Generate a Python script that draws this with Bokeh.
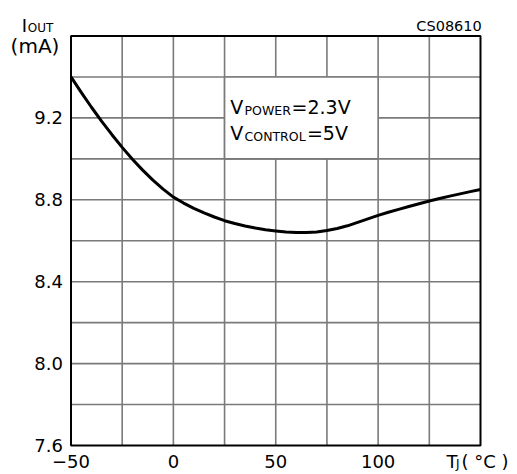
from bokeh.plotting import figure
from bokeh.models import LabelSet, ColumnDataSource, Range1d
from bokeh.core.properties import value
from bokeh.embed import file_html
from bokeh.resources import INLINE

# ---- data ----
temperature_c = [-50, -45, -40, -35, -30, -25, -20, -15, -10, -5, 0, 5, 10, 15, 20,
                 25, 30, 35, 40, 45, 50, 55, 60, 65, 70, 75, 80, 85, 90, 95, 100,
                 105, 110, 115, 120, 125, 130, 135, 140, 145, 150]
i_out_ma = [9.400, 9.325, 9.252, 9.183, 9.118, 9.056, 8.998, 8.945, 8.896, 8.852,
            8.813, 8.784, 8.758, 8.736, 8.716, 8.698, 8.684, 8.672, 8.662, 8.654,
            8.648, 8.643, 8.640, 8.640, 8.643, 8.650, 8.660, 8.673, 8.690, 8.707,
            8.724, 8.739, 8.753, 8.767, 8.781, 8.794, 8.806, 8.818, 8.829, 8.840,
            8.850]

x_tick_values = [-50, 0, 50, 100]
x_tick_labels = ["\u221250", "0", "50", "100"]
y_tick_values = [7.6, 8.0, 8.4, 8.8, 9.2]
y_tick_labels = ["7.6", "8.0", "8.4", "8.8", "9.2"]
x_grid_values = [-25, 0, 25, 50, 75, 100, 125]
y_grid_values = [7.8, 8.0, 8.2, 8.4, 8.6, 8.8, 9.0, 9.2, 9.4]
x_lim = (-50, 150)
y_lim = (7.6, 9.6)
note_box = dict(left=25, right=100, bottom=9.0, top=9.4)

# ---- layout (pixels) ----
W, H = 517, 474
PLOT_L, PLOT_R, PLOT_T, PLOT_B = 70.5, 480.0, 35.5, 445.0
kx = (PLOT_R - PLOT_L) / (x_lim[1] - x_lim[0])
ky = (PLOT_B - PLOT_T) / (y_lim[1] - y_lim[0])
x_range = Range1d(x_lim[0] - PLOT_L / kx, x_lim[1] + (W - PLOT_R) / kx)
y_range = Range1d(y_lim[0] - (H - PLOT_B) / ky, y_lim[1] + PLOT_T / ky)

FONT = value("DejaVu Sans")
GRID_COLOR = "#7a7a7a"
BOTTOM_ROW = -22.5  # baseline offset of the x tick-label row (px)

p = figure(width=W, height=H, x_range=x_range, y_range=y_range,
           output_backend="svg", toolbar_location=None, title=None,
           x_axis_location=None, y_axis_location=None,
           min_border=0, min_border_left=0, min_border_right=0,
           min_border_top=0, min_border_bottom=0)
p.background_fill_color = "white"
p.border_fill_color = "white"
p.outline_line_color = None
p.grid.visible = False

x0, x1 = x_lim
y0, y1 = y_lim

# grid
p.segment(x0=x_grid_values, y0=[y0] * len(x_grid_values),
          x1=x_grid_values, y1=[y1] * len(x_grid_values),
          line_color=GRID_COLOR, line_width=1.6)
p.segment(x0=[x0] * len(y_grid_values), y0=y_grid_values,
          x1=[x1] * len(y_grid_values), y1=y_grid_values,
          line_color=GRID_COLOR, line_width=1.6)

# white note box
p.quad(**note_box, fill_color="white", line_color=GRID_COLOR, line_width=1.6)

# plot border
p.quad(left=x0, right=x1, bottom=y0, top=y1, fill_color=None,
       line_color="black", line_width=2)

# curve
p.line(temperature_c, i_out_ma, line_color="black", line_width=3,
       line_join="round")

# tick labels
xsrc = ColumnDataSource(dict(x=x_tick_values, y=[y0] * len(x_tick_values),
                             text=x_tick_labels))
p.add_layout(LabelSet(x="x", y="y", text="text", source=xsrc, y_offset=BOTTOM_ROW,
                      text_align="center", text_baseline="alphabetic",
                      text_font=FONT, text_font_size="18px", text_color="black"))
ysrc = ColumnDataSource(dict(x=[x0] * len(y_tick_values), y=y_tick_values,
                             text=y_tick_labels))
p.add_layout(LabelSet(x="x", y="y", text="text", source=ysrc, x_offset=-8,
                      text_align="right", text_baseline="middle",
                      text_font=FONT, text_font_size="18px", text_color="black"))


def lab(text, x, y, dx, dy, size, align="left"):
    src = ColumnDataSource(dict(x=[x], y=[y], text=[text]))
    p.add_layout(LabelSet(x="x", y="y", text="text", source=src,
                          x_offset=dx, y_offset=dy,
                          text_font=FONT, text_font_size=size, text_color="black",
                          text_align=align, text_baseline="alphabetic"))


# axis titles
lab("I", x0, y1, -49.3, 3.8, "18px")
lab("OUT", x0, y1, -43.2, 3.8, "12px")
lab("(mA)", x0, y1, -36, -17, "20px", "center")
lab("T", x1, y0, -34, BOTTOM_ROW, "18px")
lab("J", x1, y0, -24.5, BOTTOM_ROW, "12px")
lab("( \u00b0C )", x1, y0, -19, BOTTOM_ROW, "18px")
lab("CS08610", x1, y1, 1.3, 4.8, "14.5px", "right")

# condition note
bx, by = note_box["left"], note_box["top"]
lab("V", bx, by, 5.8, -37.5, "19px")
lab("POWER", bx, by, 20, -38.5, "12.5px")
lab("=2.3V", bx, by, 67, -37.5, "19px")
lab("V", bx, by, 5.8, -63, "19px")
lab("CONTROL", bx, by, 20, -64, "12.5px")
lab("=5V", bx, by, 82.4, -63, "19px")

open("out.html", "w").write(file_html(p, INLINE))
